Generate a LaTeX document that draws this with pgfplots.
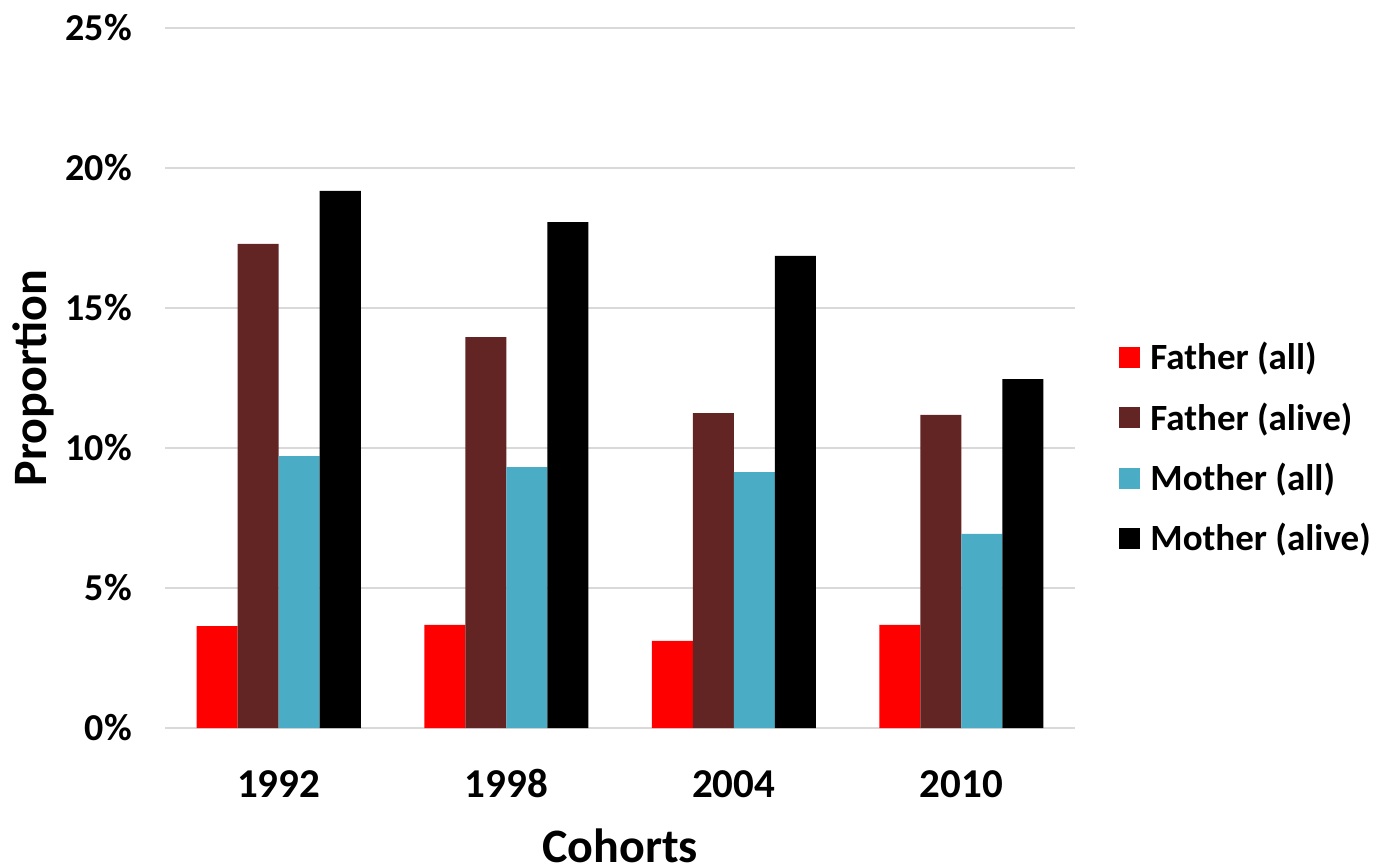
\documentclass[border=0pt]{standalone}
\usepackage{fontspec}
\setmainfont{Carlito}
\usepackage{pgfplots}
\pgfplotsset{compat=1.18}

\definecolor{fatherall}{HTML}{FF0000}
\definecolor{fatheralive}{HTML}{632523}
\definecolor{motherall}{HTML}{4BACC6}
\definecolor{motheralive}{HTML}{000000}
\definecolor{gridgray}{HTML}{D9D9D9}

\begin{document}
\begin{tikzpicture}
\path[use as bounding box] (-82.5pt,-68pt) rectangle (612.5pt,364pt);
\begin{axis}[
    at={(0pt,0pt)}, anchor=south west,
    scale only axis,
    width=455pt, height=350pt,
    ybar=0pt, bar width=20.5pt,
    xmin=-0.5, xmax=3.5,
    ymin=0, ymax=25,
    xtick=data,
    xticklabels={1992,1998,2004,2010},
    ytick={0,5,10,15,20,25},
    yticklabel={\pgfmathprintnumber{\tick}\%},
    /pgf/number format/assume math mode=true,
    axis x line*=bottom, axis y line*=left,
    x axis line style={draw=gridgray, line width=1pt},
    y axis line style={draw=none},
    major tick length=0pt,
    ymajorgrids, grid style={draw=gridgray, line width=1pt},
    xticklabel style={font=\fontsize{20.5}{24}\selectfont\bfseries, anchor=base, yshift=-34.5pt},
    yticklabel style={font=\fontsize{19}{22}\selectfont\bfseries, xshift=-13pt},
    xlabel={Cohorts}, ylabel={Proportion},
    label style={font=\fontsize{24}{28}\selectfont\bfseries},
    xlabel style={at={(0.5,0)}, anchor=center, yshift=-59pt},
    ylabel style={at={(0,0.5)}, anchor=center, yshift=66pt},
    legend style={at={(1,0.4)}, anchor=west, xshift=19pt, draw=none,
        font=\fontsize{18.5}{22}\selectfont\bfseries,
        row sep=11pt, legend cell align=left,
        nodes={inner xsep=5pt}},
    legend image code/.code={\fill[#1] (0pt,-5.25pt) rectangle (10.5pt,5.25pt);},
    every axis plot/.append style={draw=none},
]
\addplot[fill=fatherall] coordinates {(0,3.64) (1,3.68) (2,3.11) (3,3.68)};
\addplot[fill=fatheralive] coordinates {(0,17.29) (1,13.96) (2,11.25) (3,11.18)};
\addplot[fill=motherall] coordinates {(0,9.71) (1,9.32) (2,9.14) (3,6.93)};
\addplot[fill=motheralive] coordinates {(0,19.18) (1,18.07) (2,16.86) (3,12.46)};
\legend{Father (all), Father (alive), Mother (all), Mother (alive)}
\end{axis}
\end{tikzpicture}
\end{document}
